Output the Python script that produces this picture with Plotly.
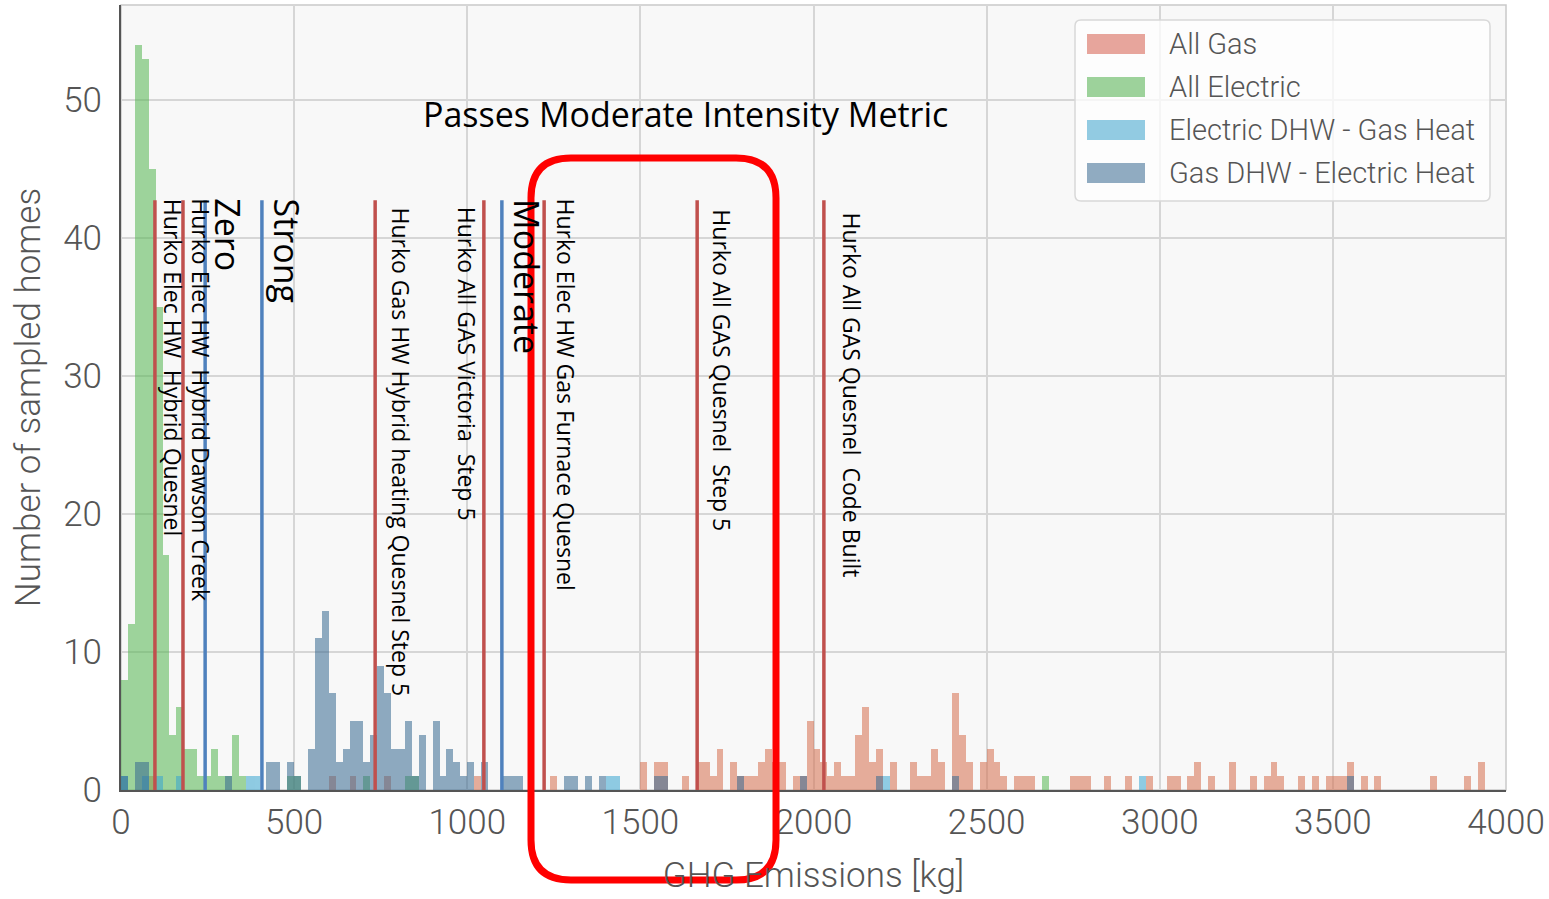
import plotly.graph_objects as go

# ---------------- data (20 kg bins, left edges in kg) ----------------
BIN = 20

gas_bins = [80, 600, 660, 760, 1020, 1240, 1500, 1540, 1560, 1620,
            1660, 1680, 1700, 1720, 1760, 1780, 1800, 1820, 1840, 1860,
            1880, 1900, 1940, 1960, 1980, 2000, 2020, 2040, 2060, 2080,
            2100, 2120, 2140, 2160, 2180, 2220, 2280, 2300, 2320, 2340,
            2360, 2400, 2420, 2440, 2480, 2500, 2520, 2540, 2580, 2600,
            2620, 2740, 2760, 2780, 2840, 2900, 2960, 3020, 3040, 3080,
            3100, 3140, 3200, 3260, 3300, 3320, 3340, 3400, 3440, 3480,
            3500, 3520, 3540, 3580, 3620, 3780, 3880, 3920]
gas_counts = [1, 1, 1, 1, 1, 1, 2, 2, 2, 1,
              2, 2, 1, 3, 2, 1, 1, 1, 2, 3,
              2, 2, 1, 1, 5, 3, 2, 1, 2, 1,
              1, 4, 6, 2, 3, 2, 2, 1, 1, 3,
              2, 7, 4, 2, 2, 3, 2, 1, 1, 1,
              1, 1, 1, 1, 1, 1, 1, 1, 1, 1,
              2, 1, 2, 1, 1, 2, 1, 1, 1, 1,
              1, 1, 2, 1, 1, 1, 1, 2]

elec_bins = [0, 20, 40, 60, 80, 100, 120, 140, 160, 180,
             200, 220, 240, 260, 280, 300, 320, 340, 480, 500,
             700, 820, 840, 2660]
elec_counts = [8, 12, 54, 53, 45, 35, 17, 4, 6, 3,
               3, 1, 1, 3, 1, 1, 4, 1, 1, 1,
               1, 1, 1, 1]

edhw_bins = [0, 60, 100, 160, 360, 380, 1400, 1420, 2200, 2940]
edhw_counts = [1, 1, 1, 1, 1, 1, 1, 1, 1, 1]

gdhw_bins = [0, 40, 60, 300, 420, 440, 480, 500, 540, 560,
             580, 600, 620, 640, 660, 680, 700, 720, 740, 760,
             780, 800, 820, 840, 860, 900, 920, 940, 960, 980,
             1000, 1040, 1100, 1120, 1140, 1280, 1300, 1340, 1380, 1540,
             1560, 1780, 1960, 2180, 2400, 3540]
gdhw_counts = [1, 2, 2, 1, 2, 2, 2, 1, 3, 11,
               13, 7, 2, 3, 5, 5, 2, 4, 9, 7,
               3, 3, 5, 1, 4, 5, 1, 3, 2, 1,
               2, 2, 1, 1, 1, 1, 1, 1, 1, 1,
               1, 1, 1, 1, 1, 1]

series_names = ["All Gas", "All Electric", "Electric DHW - Gas Heat", "Gas DHW - Electric Heat"]

# reference lines (kg) and their labels
line_kg = [98, 179, 243, 407, 734, 1048, 1100, 1222, 1664, 2030]
line_kind = ["home", "home", "target", "target", "home", "home", "target", "home", "home", "home"]
line_bottom = [0, 0, 0, 0, 0, 0, 0, -0.4, 0, 0]
line_top = 42.75

label_text = ["Hurko Elec HW  Hybrid Quesnel", "Hurko Elec HW  Hybrid Dawson Creek", "Zero", "Strong",
              "Hurko Gas HW Hybrid heating Quesnel Step 5", "Hurko All GAS Victoria  Step 5", "Moderate",
              "Hurko Elec HW Gas Furnace Quesnel", "Hurko All GAS Quesnel  Step 5", "Hurko All GAS Quesnel  Code Built"]
label_kg = [150, 231, 309, 480, 809, 1000, 1173, 1286, 1737, 2110]
label_top = [43.0, 43.0, 43.0, 43.0, 42.4, 42.4, 43.0, 43.0, 42.2, 42.0]
label_big = [False, False, True, True, False, False, True, False, False, False]

# ---------------- styling ----------------
W, H = 1549, 899
ML, MR, MT, MB = 121, 43, 5, 109
PW, PH = W - ML - MR, H - MT - MB

base_colors = ["#D66F4E", "#54B650", "#38A5D1", "#376991"]
legend_colors = ["#E7A59C", "#9DD29B", "#92CBE2", "#90ABC1"]
OPA = 0.55
line_colors = {"home": "#C0504D", "target": "#4F81BD"}
TXT_FONT = "Open Sans"


def px2paper_x(px):
    return (px - ML) / PW


def px2paper_y(py):
    return (H - MB - py) / PH


fig = go.Figure()
for name, bins, counts, col in zip(series_names,
                                    [gas_bins, elec_bins, edhw_bins, gdhw_bins],
                                    [gas_counts, elec_counts, edhw_counts, gdhw_counts],
                                    base_colors):
    fig.add_trace(go.Bar(
        x=[b + BIN / 2 for b in bins], y=counts, width=BIN, name=name,
        marker=dict(color=col, line=dict(width=0)), opacity=OPA, showlegend=False,
    ))

shapes = []
annotations = []

# plot frame (light) top/right
shapes.append(dict(type="rect", xref="paper", yref="paper", x0=0, x1=1, y0=0, y1=1,
                   line=dict(color="#c9c9c9", width=1.5), layer="below"))

for kg, kind, yb in zip(line_kg, line_kind, line_bottom):
    shapes.append(dict(type="line", xref="x", yref="y", x0=kg, x1=kg, y0=yb, y1=line_top,
                       line=dict(color=line_colors[kind], width=3.5), layer="above"))

for txt, kg, top, big in zip(label_text, label_kg, label_top, label_big):
    annotations.append(dict(x=kg, y=top, xref="x", yref="y", text=txt, showarrow=False,
                            textangle=90, xanchor="center", yanchor="top",
                            font=dict(family=TXT_FONT, size=34 if big else 23, color="black")))

annotations.append(dict(x=px2paper_x(685), y=px2paper_y(114), xref="paper", yref="paper",
                        text="Passes Moderate Intensity Metric", showarrow=False,
                        xanchor="center", yanchor="middle",
                        font=dict(family=TXT_FONT, size=34, color="black")))

# custom legend
lx0, lx1, ly0, ly1 = 1075, 1490, 20, 201
r = 6
def rounded_path(x0, y0, x1, y1, rad):
    ax = rad / PW
    ay = rad / PH
    X0, X1 = px2paper_x(x0), px2paper_x(x1)
    Y0, Y1 = px2paper_y(y0), px2paper_y(y1)  # Y0 top (larger), Y1 bottom
    return (f"M {X0+ax},{Y0} L {X1-ax},{Y0} Q {X1},{Y0} {X1},{Y0-ay} "
            f"L {X1},{Y1+ay} Q {X1},{Y1} {X1-ax},{Y1} "
            f"L {X0+ax},{Y1} Q {X0},{Y1} {X0},{Y1+ay} "
            f"L {X0},{Y0-ay} Q {X0},{Y0} {X0+ax},{Y0} Z")

shapes.append(dict(type="path", xref="paper", yref="paper", path=rounded_path(lx0, ly0, lx1, ly1, r),
                   fillcolor="rgba(255,255,255,0.75)", line=dict(color="#d8d8d8", width=1.5), layer="above"))
for i, (name, col) in enumerate(zip(series_names, legend_colors)):
    cy = 44 + i * 43
    shapes.append(dict(type="rect", xref="paper", yref="paper",
                       x0=px2paper_x(1087), x1=px2paper_x(1145),
                       y0=px2paper_y(cy + 10), y1=px2paper_y(cy - 10),
                       fillcolor=col, line=dict(width=0), layer="above"))
    annotations.append(dict(x=px2paper_x(1167), y=px2paper_y(cy), xref="paper", yref="paper",
                            text=name, showarrow=False, xanchor="left", yanchor="middle",
                            font=dict(family="Roboto", size=29, color="#555555", weight=300)))

# red highlight box (extends beyond the plotting area)
shapes.append(dict(type="path", xref="paper", yref="paper",
                   path=rounded_path(531, 158, 776, 880, 40),
                   line=dict(color="#FF0000", width=7), layer="above"))

fig.update_layout(
    width=W, height=H,
    margin=dict(l=ML, r=MR, t=MT, b=MB),
    paper_bgcolor="white", plot_bgcolor="#f8f8f8",
    barmode="overlay", bargap=0,
    shapes=shapes, annotations=annotations,
    showlegend=False,
    font=dict(family="Roboto", color="#555555"),
)
fig.update_xaxes(range=[0, 4000], tickvals=[0, 500, 1000, 1500, 2000, 2500, 3000, 3500, 4000],
                 tickfont=dict(family="Roboto", size=35, color="#555555", weight=300),
                 showgrid=True, gridcolor="#d6d6d6", gridwidth=1.5, zeroline=False,
                 showline=True, linecolor="#555555", linewidth=2, ticks="",
                 title=dict(text="GHG Emissions [kg]", standoff=20,
                            font=dict(family="Roboto", size=35, color="#555555", weight=300)))
fig.update_yaxes(range=[0, 56.9], tickvals=[0, 10, 20, 30, 40, 50],
                 tickfont=dict(family="Roboto", size=35, color="#555555", weight=300),
                 showgrid=True, gridcolor="#d6d6d6", gridwidth=1.5, zeroline=False,
                 showline=True, linecolor="#555555", linewidth=2, ticks="",
                 ticklabelstandoff=10,
                 title=dict(text="Number of sampled homes", standoff=12,
                            font=dict(family="Roboto", size=35, color="#555555", weight=300)))

fig.write_html("out.html", config={"displayModeBar": False},
               post_script="document.body.style.margin='0';")
